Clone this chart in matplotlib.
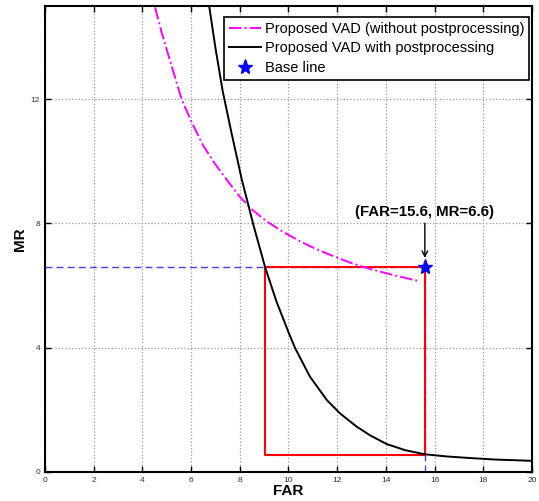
import matplotlib
matplotlib.use("Agg")
import matplotlib.pyplot as plt

plt.rcParams['font.family'] = ['Liberation Sans', 'DejaVu Sans']

# curve without postprocessing (magenta dash-dot)
far_raw = [4.52, 4.79, 5.2, 5.61, 6.0, 6.5, 7.0, 7.5, 8.0, 8.5, 9.1, 9.8, 10.47, 11.15, 11.84, 12.5, 13.2, 14.3, 15.4]
mr_raw = [14.96, 14.15, 13.07, 12.0, 11.3, 10.5, 9.9, 9.37, 8.86, 8.45, 8.07, 7.72, 7.43, 7.17, 6.95, 6.75, 6.57, 6.34, 6.14]

# curve with postprocessing (black)
far_post = [6.75, 7.0, 7.3, 7.65, 8.08, 8.56, 9.03, 9.5, 10.0, 10.27, 10.88, 11.57, 12.11, 12.8,
            13.35, 14.03, 14.8, 15.6, 16.5, 17.45, 18.5, 20.0]
mr_post = [14.96, 13.65, 12.25, 10.95, 9.42, 7.95, 6.62, 5.5, 4.5, 3.99, 3.07, 2.32, 1.89, 1.46,
           1.18, 0.9, 0.7, 0.57, 0.5, 0.45, 0.4, 0.36]

# base line operating point
base_far = 15.6
base_mr = 6.6

# region that beats the base line
box_far = [9.03, 15.6, 15.6, 9.03, 9.03]
box_mr = [6.6, 6.6, 0.55, 0.55, 6.6]

xticks = [0, 2, 4, 6, 8, 10, 12, 14, 16, 18, 20]
yticks = [0, 4, 8, 12]

fig = plt.figure(figsize=(5.39, 5.01), dpi=100)
ax = fig.add_axes([0.0835, 0.0579, 0.9035, 0.930])

ax.plot([0, base_far], [base_mr, base_mr], color='#4040ee', linestyle='--', linewidth=1.0, dashes=(5, 3))
ax.plot([base_far, base_far], [0, base_mr], color='#4040ee', linestyle='--', linewidth=1.0, dashes=(5, 3))
ax.plot(box_far, box_mr, color='#ff0000', linewidth=1.5)

l1, = ax.plot(far_raw, mr_raw, color='magenta', linestyle='-.', linewidth=1.4,
              label='Proposed VAD (without postprocessing)')
l2, = ax.plot(far_post, mr_post, color='black', linewidth=1.4,
              label='Proposed VAD with postprocessing')
l3, = ax.plot([base_far], [base_mr], linestyle='none', marker='*', markersize=11,
              color='blue', label='Base line')

ax.annotate('', xy=(base_far, 6.8), xytext=(base_far, 8.1),
            arrowprops=dict(arrowstyle='->', color='black', lw=1.0))
ax.text(base_far, 8.15, '(FAR=15.6, MR=6.6)', ha='center', va='bottom',
        fontsize=10.8, fontweight='bold')

ax.set_xlim(0, 20)
ax.set_ylim(0, 15)
ax.set_xticks(xticks)
ax.set_yticks(yticks)
ax.tick_params(direction='in', top=True, right=True, labelsize=6, length=4, width=1.0,
               labelcolor='#333333')
ax.grid(True, linestyle=':', color='#999999', linewidth=0.9)
for s in ax.spines.values():
    s.set_linewidth(1.5)

ax.set_xlabel('FAR', fontsize=11, fontweight='bold', labelpad=0)
ax.set_ylabel('MR', fontsize=11, fontweight='bold', labelpad=3)

leg = ax.legend(handles=[l1, l2, l3], loc='upper right', bbox_to_anchor=(0.994, 0.976),
                fontsize=10.5, fancybox=False, edgecolor='black', framealpha=1,
                borderpad=0.3, labelspacing=0.4, handlelength=2.2, handletextpad=0.3,
                borderaxespad=0)
leg.get_frame().set_linewidth(1.2)

fig.savefig('out.png', dpi=100)
